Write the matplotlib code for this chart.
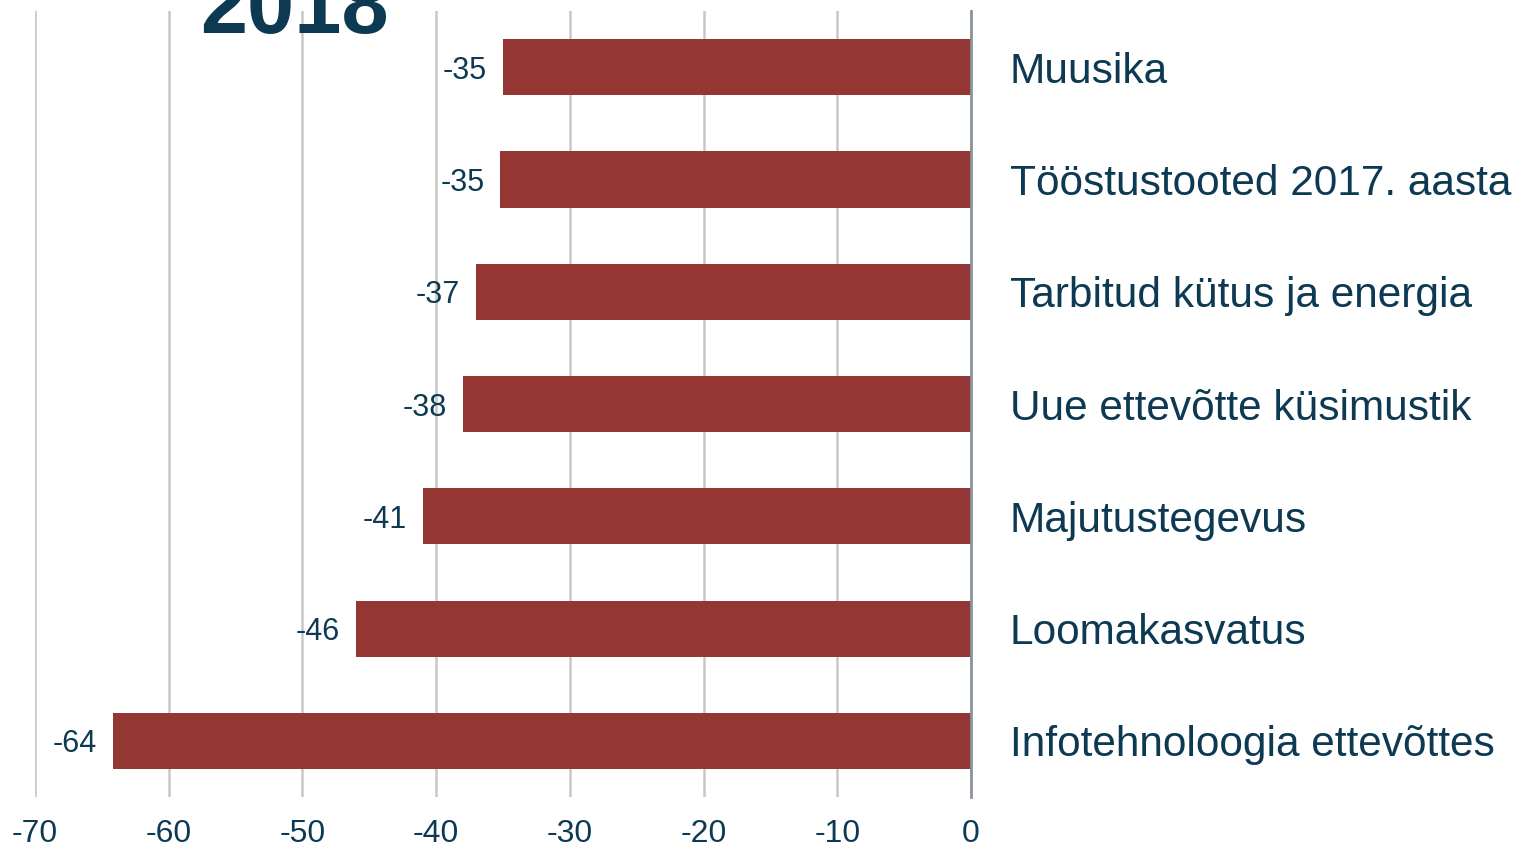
import matplotlib.pyplot as plt

plt.rcParams['font.family'] = ['Liberation Sans', 'DejaVu Sans']

# data (top to bottom as drawn)
categories = ['Muusika', 'Tööstustooted 2017. aasta', 'Tarbitud kütus ja energia',
              'Uue ettevõtte küsimustik', 'Majutustegevus', 'Loomakasvatus',
              'Infotehnoloogia ettevõttes']
values = [-35.0, -35.2, -37.0, -38.0, -41.0, -46.0, -64.2]
xticks = [-70, -60, -50, -40, -30, -20, -10, 0]
title = '2018'

text_color = '#0d3a52'
bar_color = '#943634'

fig = plt.figure(figsize=(15.18, 8.49), dpi=100)
ax = fig.add_axes([35 / 1518, 1 - 797 / 849, 936 / 1518, 786 / 849])

pos = list(range(len(categories)))
ax.barh(pos, values, height=0.5, color=bar_color, zorder=3)

for p, v in zip(pos, values):
    ax.text(v - 1.2, p, f'{v:.0f}', ha='right', va='center_baseline',
            fontsize=22, color=text_color, zorder=4)

ax.set_xlim(-70, 0)
ax.set_ylim(len(categories) - 0.5, -0.5)
ax.set_xticks(xticks)
ax.set_xticklabels([str(t) for t in xticks], fontsize=23, color=text_color)
ax.set_yticks(pos)
ax.set_yticklabels(categories, fontsize=30.5, color=text_color, va='center_baseline')
ax.yaxis.tick_right()
ax.tick_params(axis='y', length=0, pad=28)
ax.tick_params(axis='x', length=0, pad=16)

ax.grid(axis='x', color='#c8c8c8', linewidth=1.8, zorder=0)
ax.grid(axis='y', visible=False)
for s in ['top', 'bottom', 'left']:
    ax.spines[s].set_visible(False)
ax.spines['right'].set_color('#8a949c')
ax.spines['right'].set_linewidth(2)
ax.spines['right'].set_zorder(5)

fig.text(200 / 1518, 1 - 33 / 849, title, fontsize=61, fontweight='bold',
         color=text_color, ha='left', va='baseline')

fig.savefig('out.png', dpi=100)
